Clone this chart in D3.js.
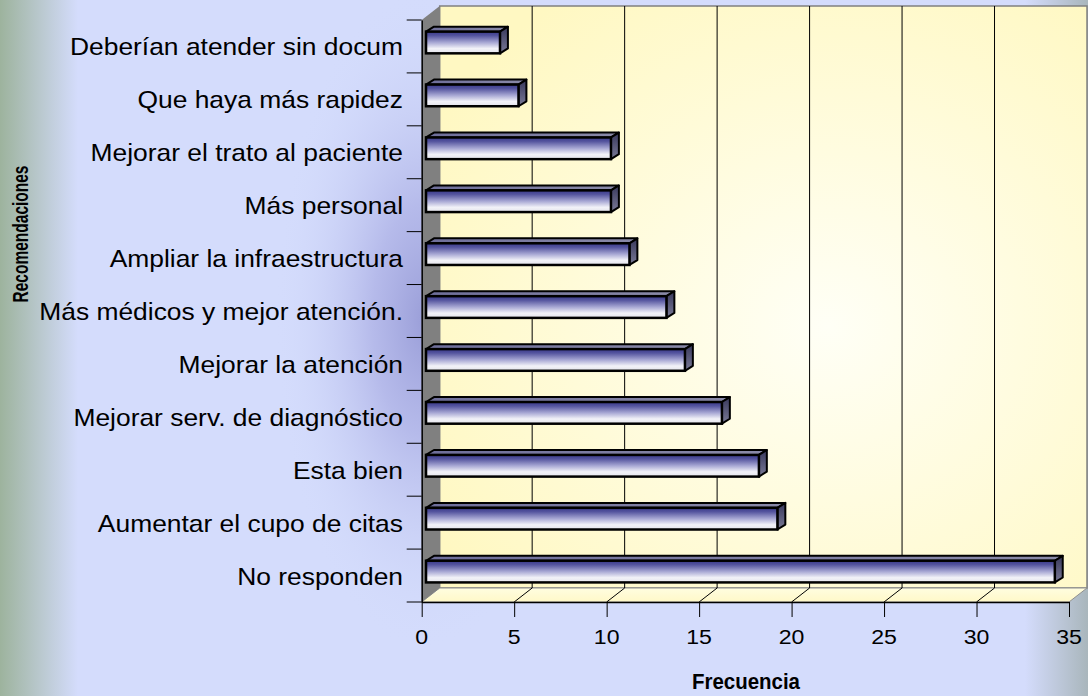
<!DOCTYPE html>
<meta charset="utf-8">
<style>
body { margin: 0; background: #d4dcfc; }
svg { display: block; font-family: "Liberation Sans", Arial, sans-serif; }
</style>
<body>
<svg width="1088" height="696"></svg>
<script src="https://cdn.jsdelivr.net/npm/d3@7"></script>
<script>
// data, top to bottom as in the chart
var categories = ["Deberían atender sin docum", "Que haya más rapidez", "Mejorar el trato al paciente",
  "Más personal", "Ampliar la infraestructura", "Más médicos y mejor atención.",
  "Mejorar la atención", "Mejorar serv. de diagnóstico", "Esta bien",
  "Aumentar el cupo de citas", "No responden"];
var values = [4, 5, 10, 10, 11, 13, 14, 16, 18, 19, 34];
var xTicks = [0, 5, 10, 15, 20, 25, 30, 35];

var svg = d3.select("svg"),
    W = +svg.attr("width"), H = +svg.attr("height");

// 3d depth of the plot box
var DX = 18, DY = 14;
// bar depth inside the box (fraction of DX / DY)
var f1 = 0.24, f2 = 0.68;

var x = d3.scaleLinear().domain([0, 35]).range([421.7, 1069]),
    y = d3.scaleBand().domain(categories).range([20, 602]);

var defs = svg.append("defs");

function lin(id, x1, y1, x2, y2, stops) {
  var g = defs.append("linearGradient").attr("id", id)
      .attr("x1", x1).attr("y1", y1).attr("x2", x2).attr("y2", y2);
  stops.forEach(function(s) {
    g.append("stop").attr("offset", s[0]).attr("stop-color", s[1]);
  });
}
lin("bgLeft", 0, 0, 1, 0, [[0, "#9db39d"], [1, "#d4dcfc"]]);
lin("bgRight", 0, 0, 1, 0, [[0, "#d4dcfc"], [1, "#a9b6bc"]]);
lin("front", 0, 0, 0, 1, [[0, "#38388a"], [0.18, "#54549e"], [0.5, "#a8a8d4"], [0.78, "#f2f2f8"], [1, "#e4e4ec"]]);
lin("topF", 0, 0, 1, 0, [[0, "#6e6e9a"], [1, "#8a8aa8"]]);
lin("sideF", 0, 0, 0, 1, [[0, "#38385c"], [1, "#7a7a96"]]);
lin("floor", 0, 0, 0, 1, [[0, "#fffde0"], [1, "#fff8c8"]]);
var rg = defs.append("radialGradient").attr("id", "wall")
    .attr("cx", 0.6).attr("cy", 0.55).attr("r", 0.7);
rg.append("stop").attr("offset", 0).attr("stop-color", "#fffff6");
rg.append("stop").attr("offset", 1).attr("stop-color", "#fff8c2");
var sh = defs.append("radialGradient").attr("id", "shade")
    .attr("cx", 0.5).attr("cy", 0.5).attr("r", 0.5);
sh.append("stop").attr("offset", 0).attr("stop-color", "#9a9ed8").attr("stop-opacity", 1);
sh.append("stop").attr("offset", 0.35).attr("stop-color", "#aeb2e6").attr("stop-opacity", 0.8);
sh.append("stop").attr("offset", 1).attr("stop-color", "#d4dcfc").attr("stop-opacity", 0);

// background
svg.append("rect").attr("width", W).attr("height", H).attr("fill", "#d4dcfc");
svg.append("rect").attr("width", 78).attr("height", H).attr("fill", "url(#bgLeft)");
svg.append("rect").attr("x", 1025).attr("width", 63).attr("height", H).attr("fill", "url(#bgRight)");
svg.append("ellipse").attr("cx", 425).attr("cy", 320).attr("rx", 150).attr("ry", 330)
    .attr("fill", "url(#shade)");

var x0 = x(0), x1 = x(35), yT = y.range()[0], yB = y.range()[1];

// back wall
svg.append("rect")
    .attr("x", x0 + DX).attr("y", yT - DY)
    .attr("width", x1 - x0).attr("height", yB - yT)
    .attr("fill", "url(#wall)").attr("stroke", "#808080").attr("stroke-width", 1.5);

// floor
svg.append("path")
    .attr("d", "M" + x0 + "," + yB + "L" + x1 + "," + yB + "L" + (x1 + DX) + "," + (yB - DY) +
      "L" + (x0 + DX) + "," + (yB - DY) + "Z")
    .attr("fill", "url(#floor)").attr("stroke", "#909090").attr("stroke-width", 1);

// side wall
svg.append("path")
    .attr("d", "M" + x0 + "," + yT + "L" + (x0 + DX) + "," + (yT - DY) + "L" + (x0 + DX) + "," + (yB - DY) +
      "L" + x0 + "," + yB + "Z")
    .attr("fill", "#808080");

// grid lines on wall and floor
var grid = xTicks.slice(1, -1);
svg.selectAll(".grid").data(grid).enter().append("line")
    .attr("x1", function(d) { return x(d) + DX; }).attr("x2", function(d) { return x(d) + DX; })
    .attr("y1", yT - DY).attr("y2", yB - DY)
    .attr("stroke", "#000").attr("stroke-width", 1);
svg.selectAll(".fgrid").data(grid).enter().append("line")
    .attr("x1", function(d) { return x(d); }).attr("x2", function(d) { return x(d) + DX; })
    .attr("y1", yB).attr("y2", yB - DY)
    .attr("stroke", "#000").attr("stroke-width", 1);

// bars
var bh = y.bandwidth() * 0.41, bOff = y.bandwidth() * 0.22;
var bdx = DX * (f2 - f1), bdy = DY * (f2 - f1) * 0.8;
var sx = DX * f1;

var bars = svg.selectAll(".bar").data(values).enter().append("g").attr("class", "bar");
bars.append("path")
    .attr("d", function(d, i) {
      var a = x(0) + sx, b = x(d) + sx, t = y(categories[i]) + bOff;
      return "M" + a + "," + t + "L" + (a + bdx) + "," + (t - bdy) + "L" + (b + bdx) + "," + (t - bdy) +
        "L" + b + "," + t + "Z";
    })
    .attr("fill", "url(#topF)").attr("stroke", "#000").attr("stroke-width", 2).attr("stroke-linejoin", "round");
bars.append("path")
    .attr("d", function(d, i) {
      var b = x(d) + sx, t = y(categories[i]) + bOff;
      return "M" + b + "," + t + "L" + (b + bdx) + "," + (t - bdy) + "L" + (b + bdx) + "," + (t + bh - bdy) +
        "L" + b + "," + (t + bh) + "Z";
    })
    .attr("fill", "url(#sideF)").attr("stroke", "#000").attr("stroke-width", 2).attr("stroke-linejoin", "round");
bars.append("rect")
    .attr("x", x(0) + sx)
    .attr("y", function(d, i) { return y(categories[i]) + bOff; })
    .attr("width", function(d) { return x(d) - x(0); })
    .attr("height", bh)
    .attr("fill", "url(#front)").attr("stroke", "#000").attr("stroke-width", 2.5);

// axes
var yAxis = svg.append("g").attr("transform", "translate(" + x0 + ",0)")
    .call(d3.axisLeft(y).tickSize(0).tickFormat(""));
yAxis.select(".domain").attr("stroke", "#000").attr("stroke-width", 1.5);
var bounds = y.domain().map(function(c) { return y(c); }).concat([yB]);
yAxis.selectAll(".bnd").data(bounds).enter().append("line")
    .attr("x1", -15).attr("x2", 0).attr("y1", function(d) { return d; }).attr("y2", function(d) { return d; })
    .attr("stroke", "#000");

var xAxis = svg.append("g").attr("transform", "translate(0," + yB + ")")
    .call(d3.axisBottom(x).tickValues(xTicks).tickSize(15).tickSizeOuter(0));
xAxis.select(".domain").attr("stroke", "#000").attr("stroke-width", 1.5);
xAxis.selectAll(".tick line").attr("stroke", "#000");
xAxis.selectAll(".tick text").remove();

// tick labels
svg.selectAll(".xl").data(xTicks).enter().append("text")
    .attr("transform", function(d) { return "translate(" + x(d) + ",644) scale(1.1,1)"; })
    .attr("text-anchor", "middle").attr("font-size", 21).attr("fill", "#000")
    .text(function(d) { return d; });

svg.selectAll(".yl").data(categories).enter().append("text")
    .attr("transform", function(d) { return "translate(403," + (y(d) + y.bandwidth() / 2 + 9) + ") scale(1.1,1)"; })
    .attr("text-anchor", "end").attr("font-size", 24).attr("fill", "#000")
    .text(function(d) { return d; });

// axis titles
svg.append("text")
    .attr("x", 746).attr("y", 689).attr("text-anchor", "middle")
    .attr("font-size", 22).attr("font-weight", "bold")
    .attr("textLength", 108).attr("lengthAdjust", "spacingAndGlyphs")
    .text("Frecuencia");
svg.append("text")
    .attr("transform", "translate(28,234) rotate(-90)").attr("text-anchor", "middle")
    .attr("font-size", 22).attr("font-weight", "bold")
    .attr("textLength", 137).attr("lengthAdjust", "spacingAndGlyphs")
    .text("Recomendaciones");
</script>
</body>
